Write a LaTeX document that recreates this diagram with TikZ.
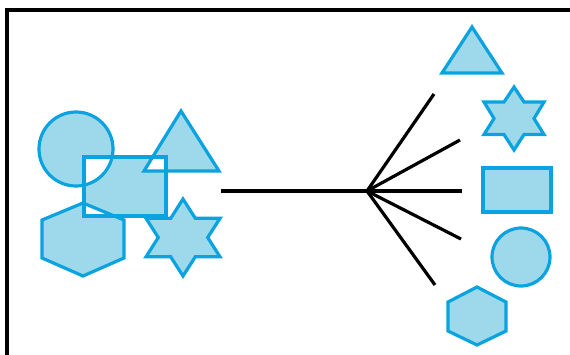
\documentclass[tikz,border=0pt]{standalone}
\usetikzlibrary{calc}
\definecolor{shapefill}{HTML}{9DD9EA}
\definecolor{shapeline}{HTML}{0BA3DF}
\tikzset{
  shp/.style={fill=shapefill,draw=shapeline,line width=3.2pt,line join=miter},
  shpfill/.style={fill=shapefill},
  shpline/.style={draw=shapeline,line width=3.2pt},
  link/.style={draw=black,line width=3.2pt},
  frame/.style={draw=black,line width=3.4pt}
}
\begin{document}
\begin{tikzpicture}[x=1pt,y=-1pt]
\useasboundingbox (0,0) rectangle (570,354);
% frame
\draw[frame] (7,356) -- (7,10) -- (572,10);
% ---- left cluster ----
\def\lcirc{(76,149) circle[radius=37]}
\def\ltri{(181,111) -- (219,171) -- (144,171) -- cycle}
\def\lhex{(83,203) -- (124,220) -- (124,258) -- (83,276) -- (42,258) -- (42,220) -- cycle}
\def\lrect{(84,157) rectangle (166,216)}
\def\lstar{(183,199) -- (195.3,218.3) -- (220,218.3) -- (207.7,237.5) -- (220,256.8) -- (195.3,256.8) -- (183,276) -- (170.7,256.8) -- (146,256.8) -- (158.3,237.5) -- (146,218.3) -- (170.7,218.3) -- cycle}
\fill[shpfill] \lcirc;
\fill[shpfill] \ltri;
\fill[shpfill] \lhex;
\fill[shpfill] \lrect;
\fill[shpfill] \lstar;
\begin{scope}
  \clip \lrect;
  \fill[white] \lcirc;
  \fill[white] \ltri;
  \fill[white] \lhex;
\end{scope}
\draw[shpline] \lcirc;
\draw[shpline] \ltri;
\draw[shpline] \lhex;
\draw[shpline] \lstar;
\draw[shpline] \lrect;
% ---- connectors ----
\coordinate (src) at (221,191);
\coordinate (hub) at (367,191);
\coordinate (e1) at (434,94);
\coordinate (e2) at (460,140);
\coordinate (e3) at (462,191);
\coordinate (e4) at (461,239);
\coordinate (e5) at (435,285);
\draw[link] (src) -- (hub);
\foreach \e in {e1,e2,e3,e4,e5} \draw[link] (hub) -- (\e);
% ---- right column ----
\draw[shp] (472,27) -- (502,73) -- (442,73) -- cycle;
\draw[shp] (514,87) -- (524,102) -- (544,102) -- (534,118.5) -- (544,134.5) -- (524,134.5) -- (514,150) -- (504,134.5) -- (484,134.5) -- (494,118.5) -- (484,102) -- (504,102) -- cycle;
\draw[shp] (483,168) rectangle (551,212);
\draw[shp] (521,257) circle[radius=29];
\draw[shp] (477,287) -- (506,302) -- (506,331) -- (477,345) -- (448,331) -- (448,302) -- cycle;
\end{tikzpicture}
\end{document}
